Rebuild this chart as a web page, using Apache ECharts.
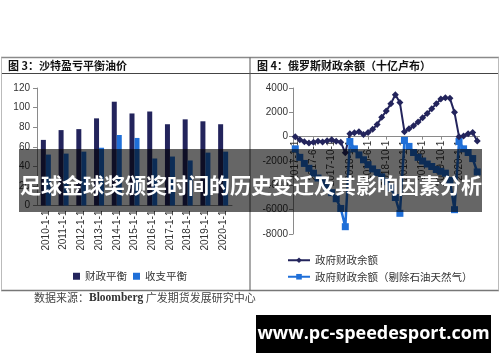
<!DOCTYPE html>
<html><head><meta charset="utf-8">
<script src="https://cdn.jsdelivr.net/npm/echarts@6/dist/echarts.min.js"></script>
<style>html,body{margin:0;padding:0;background:#fff}#c{width:500px;height:362px}</style>
</head><body><div id="c"></div>
<script>
// ---- Figure 3: Saudi breakeven oil price ----
const saudiYears = ['2010-1-1','2011-1-1','2012-1-1','2013-1-1','2014-1-1','2015-1-1','2016-1-1','2017-1-1','2018-1-1','2019-1-1','2020-1-1'];
const fiscalBreakeven = [67, 77, 78, 89, 106, 94, 96, 83, 88, 86, 83];
const externalBreakeven = [52, 53, 55, 59, 72, 69, 48, 50, 46, 54, 55];
const saudiYMin = 0, saudiYMax = 120, saudiYStep = 20;

// ---- Figure 4: Russia budget balance (bn RUB) ----
const rusMonths = [
 '2017-01','2017-02','2017-03','2017-04','2017-05','2017-06','2017-07','2017-08','2017-09','2017-10','2017-11','2017-12',
 '2018-01','2018-02','2018-03','2018-04','2018-05','2018-06','2018-07','2018-08','2018-09','2018-10','2018-11','2018-12',
 '2019-01','2019-02','2019-03','2019-04','2019-05','2019-06','2019-07','2019-08','2019-09','2019-10','2019-11','2019-12',
 '2020-01','2020-02','2020-03','2020-04','2020-05'];
const rusTickLabels = ['2017-1-1','2017-6-1','2017-10-1','2018-1-1','2018-6-1','2018-10-1','2019-1-1','2019-6-1','2019-10-1','2020-1-1'];
const rusBalance = [
 0, -250, -420, -520, -450, -380, -430, -330, -250, -380, -450, -1330,
 250, 330, 400, 180, 350, 600, 1000, 1600, 2100, 2700, 3450, 2800,
 410, 650, 900, 1200, 1550, 1900, 2300, 2700, 3100, 3200, 3150, 2000,
 0, 50, 250, 350, -350];
const rusNonOilBalance = [
 -1000, -1700, -2200, -2600, -3000, -3400, -3800, -4200, -4600, -5100, -5900, -7400,
 -400, -1000, -1500, -1900, -2300, -2650, -2950, -3300, -3700, -4200, -5000, -6300,
 -300, -800, -1300, -1700, -2000, -2250, -2450, -2700, -2850, -3000, -3600, -6000,
 -400, -1000, -1300, -1800, -2900];
const rusYMin = -8000, rusYMax = 4000, rusYStep = 2000;

const NAVY = '#23245c', BLUE = '#1f6fd8';
const SANS = 'Liberation Sans';
const CJK = '"Noto Sans CJK SC"';

// layout of the Russia grid; the category axis sits on the zero line
const rusGrid = {left: 293, top: 88, width: 186.5, height: 146};
const rusZeroOffset = -rusGrid.height * (0 - rusYMin) / (rusYMax - rusYMin);

const chart = echarts.init(document.getElementById('c'), null, {renderer: 'canvas'});
const axisLbl = {color: '#333', fontSize: 10, fontFamily: SANS};
const axisLn = {show: true, lineStyle: {color: '#8a8a8a', width: 1}};

chart.setOption({
  backgroundColor: '#fff',
  animation: false,
  grid: [
    {left: 37, top: 88, width: 195, height: 117.5},
    rusGrid
  ],
  xAxis: [
    {gridIndex: 0, type: 'category', data: saudiYears, boundaryGap: true,
     axisLine: axisLn, axisTick: {show: false},
     axisLabel: Object.assign({rotate: 90, margin: 5, interval: 0}, axisLbl)},
    {gridIndex: 1, type: 'category', data: rusMonths, boundaryGap: true, position: 'bottom',
     offset: rusZeroOffset,
     axisLine: Object.assign({onZero: false}, axisLn),
     axisTick: {show: true, interval: 3, alignWithLabel: true, length: 3, lineStyle: {color: '#8a8a8a'}},
     axisLabel: Object.assign({rotate: 90, margin: 4,
       interval: (i) => i % 4 === 0 && i / 4 < rusTickLabels.length,
       formatter: (v, i) => rusTickLabels[Math.round(i / 4)] || ''}, axisLbl)}
  ],
  yAxis: [
    {gridIndex: 0, type: 'value', min: saudiYMin, max: saudiYMax, interval: saudiYStep,
     axisLine: axisLn, axisTick: {show: true, length: 4, lineStyle: {color: '#8a8a8a'}},
     splitLine: {show: false}, axisLabel: Object.assign({margin: 7}, axisLbl)},
    {gridIndex: 1, type: 'value', min: rusYMin, max: rusYMax, interval: rusYStep,
     axisLine: axisLn, axisTick: {show: true, length: 4, lineStyle: {color: '#8a8a8a'}},
     splitLine: {show: false},
     axisLabel: Object.assign({margin: 5, formatter: (v) => String(v)}, axisLbl)}
  ],
  legend: [
    {data: ['财政平衡', '收支平衡'], left: 68, top: 266, icon: 'rect', itemWidth: 7, itemHeight: 7,
     itemGap: 6, textStyle: {fontSize: 10.5, color: '#333', fontFamily: CJK}},
    {data: ['政府财政余额', '政府财政余额（剔除石油天然气）'], left: 282, top: 250, orient: 'vertical',
     itemWidth: 22, itemHeight: 7, itemGap: 6,
     textStyle: {fontSize: 10.5, color: '#333', fontFamily: CJK}}
  ],
  series: [
    {name: '财政平衡', type: 'bar', xAxisIndex: 0, yAxisIndex: 0, data: fiscalBreakeven,
     barWidth: 5, barGap: '0%', itemStyle: {color: NAVY}},
    {name: '收支平衡', type: 'bar', xAxisIndex: 0, yAxisIndex: 0, data: externalBreakeven,
     barWidth: 5, barGap: '0%', itemStyle: {color: BLUE}},
    {name: '政府财政余额（剔除石油天然气）', type: 'line', xAxisIndex: 1, yAxisIndex: 1, data: rusNonOilBalance,
     symbol: 'rect', symbolSize: 7, showAllSymbol: true,
     lineStyle: {color: BLUE, width: 2.5}, itemStyle: {color: BLUE}},
    {name: '政府财政余额', type: 'line', xAxisIndex: 1, yAxisIndex: 1, data: rusBalance,
     symbol: 'diamond', symbolSize: 7, showAllSymbol: true,
     lineStyle: {color: NAVY, width: 2}, itemStyle: {color: NAVY}}
  ],
  graphic: [
    // frame
    {type: 'line', shape: {x1: 1, y1: 57.5, x2: 499, y2: 57.5}, style: {stroke: '#8a8a8a', lineWidth: 1.5}, z: 50},
    {type: 'line', shape: {x1: 1, y1: 73.5, x2: 499, y2: 73.5}, style: {stroke: '#444', lineWidth: 1}, z: 50},
    {type: 'line', shape: {x1: 1, y1: 290.5, x2: 499, y2: 290.5}, style: {stroke: '#777', lineWidth: 1.5}, z: 50},
    {type: 'line', shape: {x1: 250, y1: 57.5, x2: 250, y2: 290.5}, style: {stroke: '#555', lineWidth: 1}, z: 50},
    {type: 'line', shape: {x1: 1.5, y1: 57.5, x2: 1.5, y2: 290.5}, style: {stroke: '#bbb', lineWidth: 1}, z: 50},
    {type: 'line', shape: {x1: 498.5, y1: 57.5, x2: 498.5, y2: 290.5}, style: {stroke: '#bbb', lineWidth: 1}, z: 50},
    // titles
    {type: 'text', x: 8, y: 66, z: 50, style: {text: '图 3：沙特盈亏平衡油价', fill: '#111',
      font: 'bold 11px ' + CJK, verticalAlign: 'middle', align: 'left'}},
    {type: 'text', x: 257, y: 66, z: 50, style: {text: '图 4：俄罗斯财政余额（十亿卢布）', fill: '#111',
      font: 'bold 11px ' + CJK, verticalAlign: 'middle', align: 'left'}},
    // source
    {type: 'text', x: 34, y: 298, z: 50, style: {
      text: '{a|数据来源：}{b|Bloomberg}{a| 广发期货发展研究中心}',
      verticalAlign: 'middle', align: 'left',
      rich: {a: {fontSize: 11, fontFamily: CJK, fill: '#444', color: '#444'},
             b: {fontSize: 11.5, fontFamily: 'Liberation Serif', fontWeight: 'bold', fill: '#333', color: '#333'}}}},
    // banner overlay
    {type: 'rect', shape: {x: 19, y: 149, width: 463, height: 63}, style: {fill: 'rgba(0,0,0,0.6)'}, z: 100},
    {type: 'text', x: 20, y: 185, z: 101, style: {text: '足球金球奖颁奖时间的历史变迁及其影响因素分析',
      fill: '#fff', font: 'bold 21px ' + CJK, verticalAlign: 'middle', align: 'left'}},
    // watermark
    {type: 'rect', shape: {x: 256, y: 315, width: 235, height: 38}, style: {fill: '#000'}, z: 100},
    {type: 'text', x: 373.5, y: 334, z: 101, style: {text: 'www.pc-speedesport.com', fill: '#fff',
      font: 'bold 18px "Open Sans"', verticalAlign: 'middle', align: 'center'}}
  ]
});
</script>
</body></html>
